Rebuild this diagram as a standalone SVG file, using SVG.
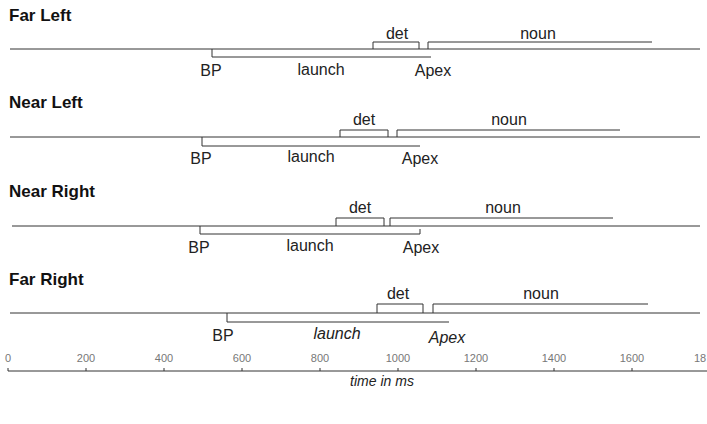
<svg xmlns="http://www.w3.org/2000/svg" width="707" height="424" viewBox="0 0 707 424">
<style>
.title{font-family:"Liberation Sans",Arial,sans-serif;font-size:17px;font-weight:bold;fill:#111}
.lbl{font-family:"Liberation Sans",Arial,sans-serif;font-size:16px;fill:#222;text-anchor:middle}
.it{font-style:italic}
.ax{font-family:"Liberation Sans",Arial,sans-serif;font-size:11px;fill:#777;text-anchor:middle}
.axt{font-family:"Liberation Sans",Arial,sans-serif;font-size:14px;font-style:italic;fill:#222;text-anchor:middle}
.ln{fill:none;stroke:#333;stroke-width:1}
</style>
<rect width="707" height="424" fill="#fff"/>

<g id="far-left">
<text class="title" x="9" y="21">Far Left</text>
<text class="lbl" x="397" y="39">det</text>
<text class="lbl" x="538" y="39">noun</text>
<text class="lbl" x="211" y="76">BP</text>
<text class="lbl" x="321" y="75">launch</text>
<text class="lbl" x="433" y="76">Apex</text>
</g>
<g id="near-left">
<text class="title" x="9" y="108">Near Left</text>
<text class="lbl" x="364" y="125">det</text>
<text class="lbl" x="509" y="125">noun</text>
<text class="lbl" x="201" y="164">BP</text>
<text class="lbl" x="311" y="162">launch</text>
<text class="lbl" x="420" y="164">Apex</text>
</g>
<g id="near-right">
<text class="title" x="9" y="197">Near Right</text>
<text class="lbl" x="360" y="213">det</text>
<text class="lbl" x="503" y="213">noun</text>
<text class="lbl" x="199" y="253">BP</text>
<text class="lbl" x="310" y="251">launch</text>
<text class="lbl" x="421" y="253">Apex</text>
</g>
<g id="far-right">
<text class="title" x="9" y="285">Far Right</text>
<text class="lbl" x="398" y="299">det</text>
<text class="lbl" x="541" y="299">noun</text>
<text class="lbl" x="223" y="341">BP</text>
<text class="lbl it" x="337" y="339">launch</text>
<text class="lbl it" x="447" y="343">Apex</text>
</g>
<g id="axis">
<text class="ax" x="8" y="362">0</text>
<text class="ax" x="86" y="362">200</text>
<text class="ax" x="164" y="362">400</text>
<text class="ax" x="242" y="362">600</text>
<text class="ax" x="320" y="362">800</text>
<text class="ax" x="398" y="362">1000</text>
<text class="ax" x="476" y="362">1200</text>
<text class="ax" x="554" y="362">1400</text>
<text class="ax" x="632" y="362">1600</text>
<text class="ax" x="694" y="362" style="text-anchor:start">18</text>
<text class="axt" x="382" y="386">time in ms</text>
</g>

<g id="connectors">
<!-- Far Left -->
<path class="ln" d="M10,49 H700"/>
<path class="ln" d="M212,49 V57 H431"/>
<path class="ln" d="M373,49 V42 H419 V49"/>
<path class="ln" d="M428,49 V42 H652"/>
<!-- Near Left -->
<path class="ln" d="M10,137 H700"/>
<path class="ln" d="M202,137 V146 H420"/>
<path class="ln" d="M340,137 V130 H388 V137"/>
<path class="ln" d="M397,137 V130 H620"/>
<!-- Near Right -->
<path class="ln" d="M12,226 H700"/>
<path class="ln" d="M200,226 V234 H420 V229"/>
<path class="ln" d="M336,226 V218 H384 V226"/>
<path class="ln" d="M390,226 V218 H613"/>
<!-- Far Right -->
<path class="ln" d="M10,313 H700"/>
<path class="ln" d="M227,313 V322 H449"/>
<path class="ln" d="M377,313 V304 H423 V313"/>
<path class="ln" d="M433,313 V304 H648"/>
<!-- Axis -->
<path class="ln" d="M8,371 H707"/>
<path class="ln" d="M8,368 V371 M86,368 V371 M164,368 V371 M242,368 V371 M320,368 V371 M398,368 V371 M476,368 V371 M554,368 V371 M632,368 V371"/>
</g>
</svg>
